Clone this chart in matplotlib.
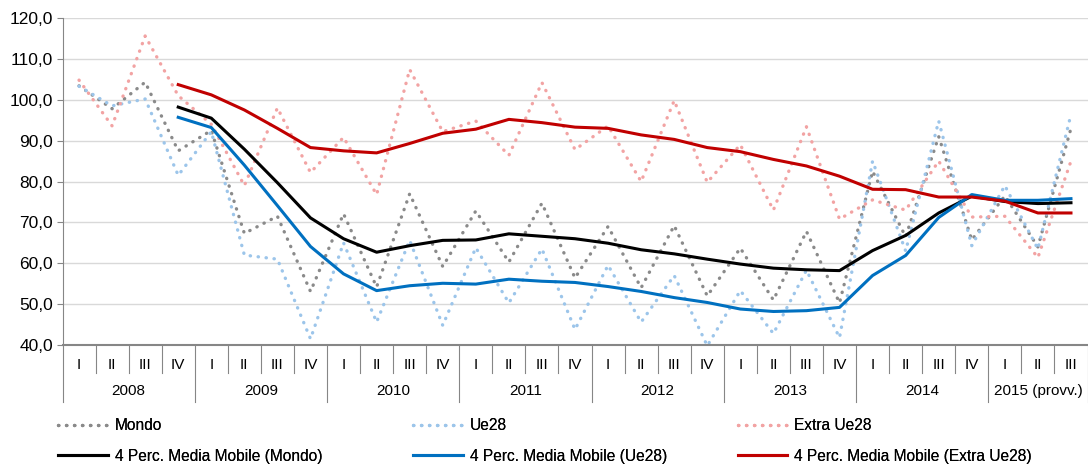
import matplotlib
matplotlib.use("Agg")
import matplotlib.pyplot as plt
from matplotlib.ticker import FuncFormatter
import matplotlib.transforms as mtransforms

plt.rcParams['font.family'] = ['Liberation Sans', 'DejaVu Sans']

QUARTERS = ["I", "II", "III", "IV"] * 7 + ["I", "II", "III"]
YEARS = ["2008", "2009", "2010", "2011", "2012", "2013", "2014", "2015 (provv.)"]

mondo = [103.4, 97.8, 104.3, 87.5, 92.5, 67.3, 71.5, 53.1, 72.1, 54.2, 77.0, 59.2, 72.8, 60.3, 74.7, 56.4,
         69.0, 54.0, 69.2, 52.0, 63.7, 51.0, 67.8, 50.3, 82.5, 66.5, 91.0, 65.7, 76.5, 64.0, 93.0]
ue28 = [103.3, 98.5, 100.2, 81.5, 92.2, 62.0, 61.0, 41.5, 65.0, 45.6, 65.6, 44.8, 63.8, 50.3, 63.5, 43.8,
        59.5, 45.6, 57.0, 39.8, 53.3, 42.8, 58.3, 41.8, 85.0, 63.0, 94.8, 64.3, 79.0, 63.5, 96.4]
extra = [104.8, 93.6, 115.6, 101.0, 94.0, 79.0, 98.0, 82.2, 90.8, 76.8, 107.4, 92.2, 94.8, 86.4, 104.2, 87.8,
         93.6, 80.0, 99.8, 79.8, 89.0, 73.0, 93.4, 70.8, 75.5, 73.0, 85.0, 71.3, 71.5, 61.4, 85.0]

# 4-quarter moving averages, from 2008 IV onwards
ma_mondo = [98.2, 95.5, 87.9, 79.7, 71.1, 66.0, 62.7, 64.3, 65.6, 65.7, 67.2, 66.6, 66.0, 64.9,
            63.3, 62.3, 61.0, 59.8, 58.8, 58.4, 58.2, 63.1, 66.8, 72.3, 76.4, 75.1, 74.6, 74.8]
ma_ue28 = [95.7, 93.2, 84.0, 74.1, 64.1, 57.4, 53.3, 54.5, 55.1, 54.9, 56.1, 55.6, 55.3, 54.3,
           53.1, 51.6, 50.4, 48.8, 48.2, 48.4, 49.2, 57.0, 61.9, 71.2, 76.8, 75.4, 75.4, 75.8]
ma_extra = [103.7, 101.2, 97.5, 93.0, 88.3, 87.5, 87.0, 89.3, 91.8, 92.8, 95.2, 94.4, 93.3, 93.0,
            91.4, 90.3, 88.3, 87.3, 85.4, 83.8, 81.3, 78.1, 78.0, 76.2, 76.2, 75.2, 72.3, 72.3]

GRAY_DOT = "#8a8a8a"
BLUE_DOT = "#9cc5ea"
RED_DOT = "#f2a3a3"
AXIS_COL = "#868686"

fig = plt.figure(figsize=(10.88, 4.67), dpi=100)
ax = fig.add_axes([62.5 / 1088, 122 / 467, 1025 / 1088, 327 / 467])

x = list(range(len(mondo)))
x_ma = x[3:]
dot = dict(linestyle=(0, (0.1, 2.3)), linewidth=2.4, dash_capstyle="round")

ax.plot(x, mondo, color=GRAY_DOT, **dot, label="Mondo")
ax.plot(x, ue28, color=BLUE_DOT, **dot, label="Ue28")
ax.plot(x, extra, color=RED_DOT, **dot, label="Extra Ue28")
ax.plot(x_ma, ma_mondo, color="black", linewidth=2.2, label="4 Perc. Media Mobile (Mondo)")
ax.plot(x_ma, ma_ue28, color="#0070c0", linewidth=2.2, label="4 Perc. Media Mobile (Ue28)")
ax.plot(x_ma, ma_extra, color="#c00000", linewidth=2.2, label="4 Perc. Media Mobile (Extra Ue28)")

ax.set_xlim(-0.5, len(mondo) - 0.5)
ax.set_ylim(40, 120)
ax.set_yticks(range(40, 121, 10))
ax.yaxis.set_major_formatter(FuncFormatter(lambda v, p: "{:.1f}".format(v).replace(".", ",")))
ax.tick_params(axis="y", labelsize=12.5, length=4, color=AXIS_COL, pad=3)
ax.set_xticks([])
ax.grid(axis="y", color="#d9d9d9", linewidth=1)
ax.set_axisbelow(True)
for s in ["top", "right"]:
    ax.spines[s].set_visible(False)
ax.spines["left"].set_color(AXIS_COL)
ax.spines["bottom"].set_color(AXIS_COL)
ax.spines["bottom"].set_linewidth(1.5)

# two-level category axis
trans = mtransforms.blended_transform_factory(ax.transData, ax.transAxes)
q_low = -28 / 327
y_low = -57 / 327
for k in range(len(mondo) + 1):
    bottom = y_low if k % 4 == 0 or k == len(mondo) else q_low
    ax.plot([k - 0.5, k - 0.5], [0, bottom], color=AXIS_COL, linewidth=0.8,
            transform=trans, clip_on=False)
for k, q in enumerate(QUARTERS):
    ax.text(k, -20 / 327, q, transform=trans, ha="center", va="center", fontsize=11)
for j, yr in enumerate(YEARS):
    first = 4 * j
    last = min(4 * j + 3, len(mondo) - 1)
    ax.text((first + last) / 2, -46 / 327, yr, transform=trans, ha="center", va="center", fontsize=11)

handles, labels = ax.get_legend_handles_labels()
lx = [0.0533, 0.3796, 0.678]
for i in range(3):
    leg = fig.legend([handles[i], handles[i + 3]], [labels[i], labels[i + 3]],
                     loc="upper left", bbox_to_anchor=(lx[i], 0.104), frameon=False,
                     fontsize=11.2, handlelength=3.2, handletextpad=0.45, labelspacing=0.98,
                     borderaxespad=0, borderpad=0)
    fig.add_artist(leg)

fig.savefig("out.png", dpi=100)
